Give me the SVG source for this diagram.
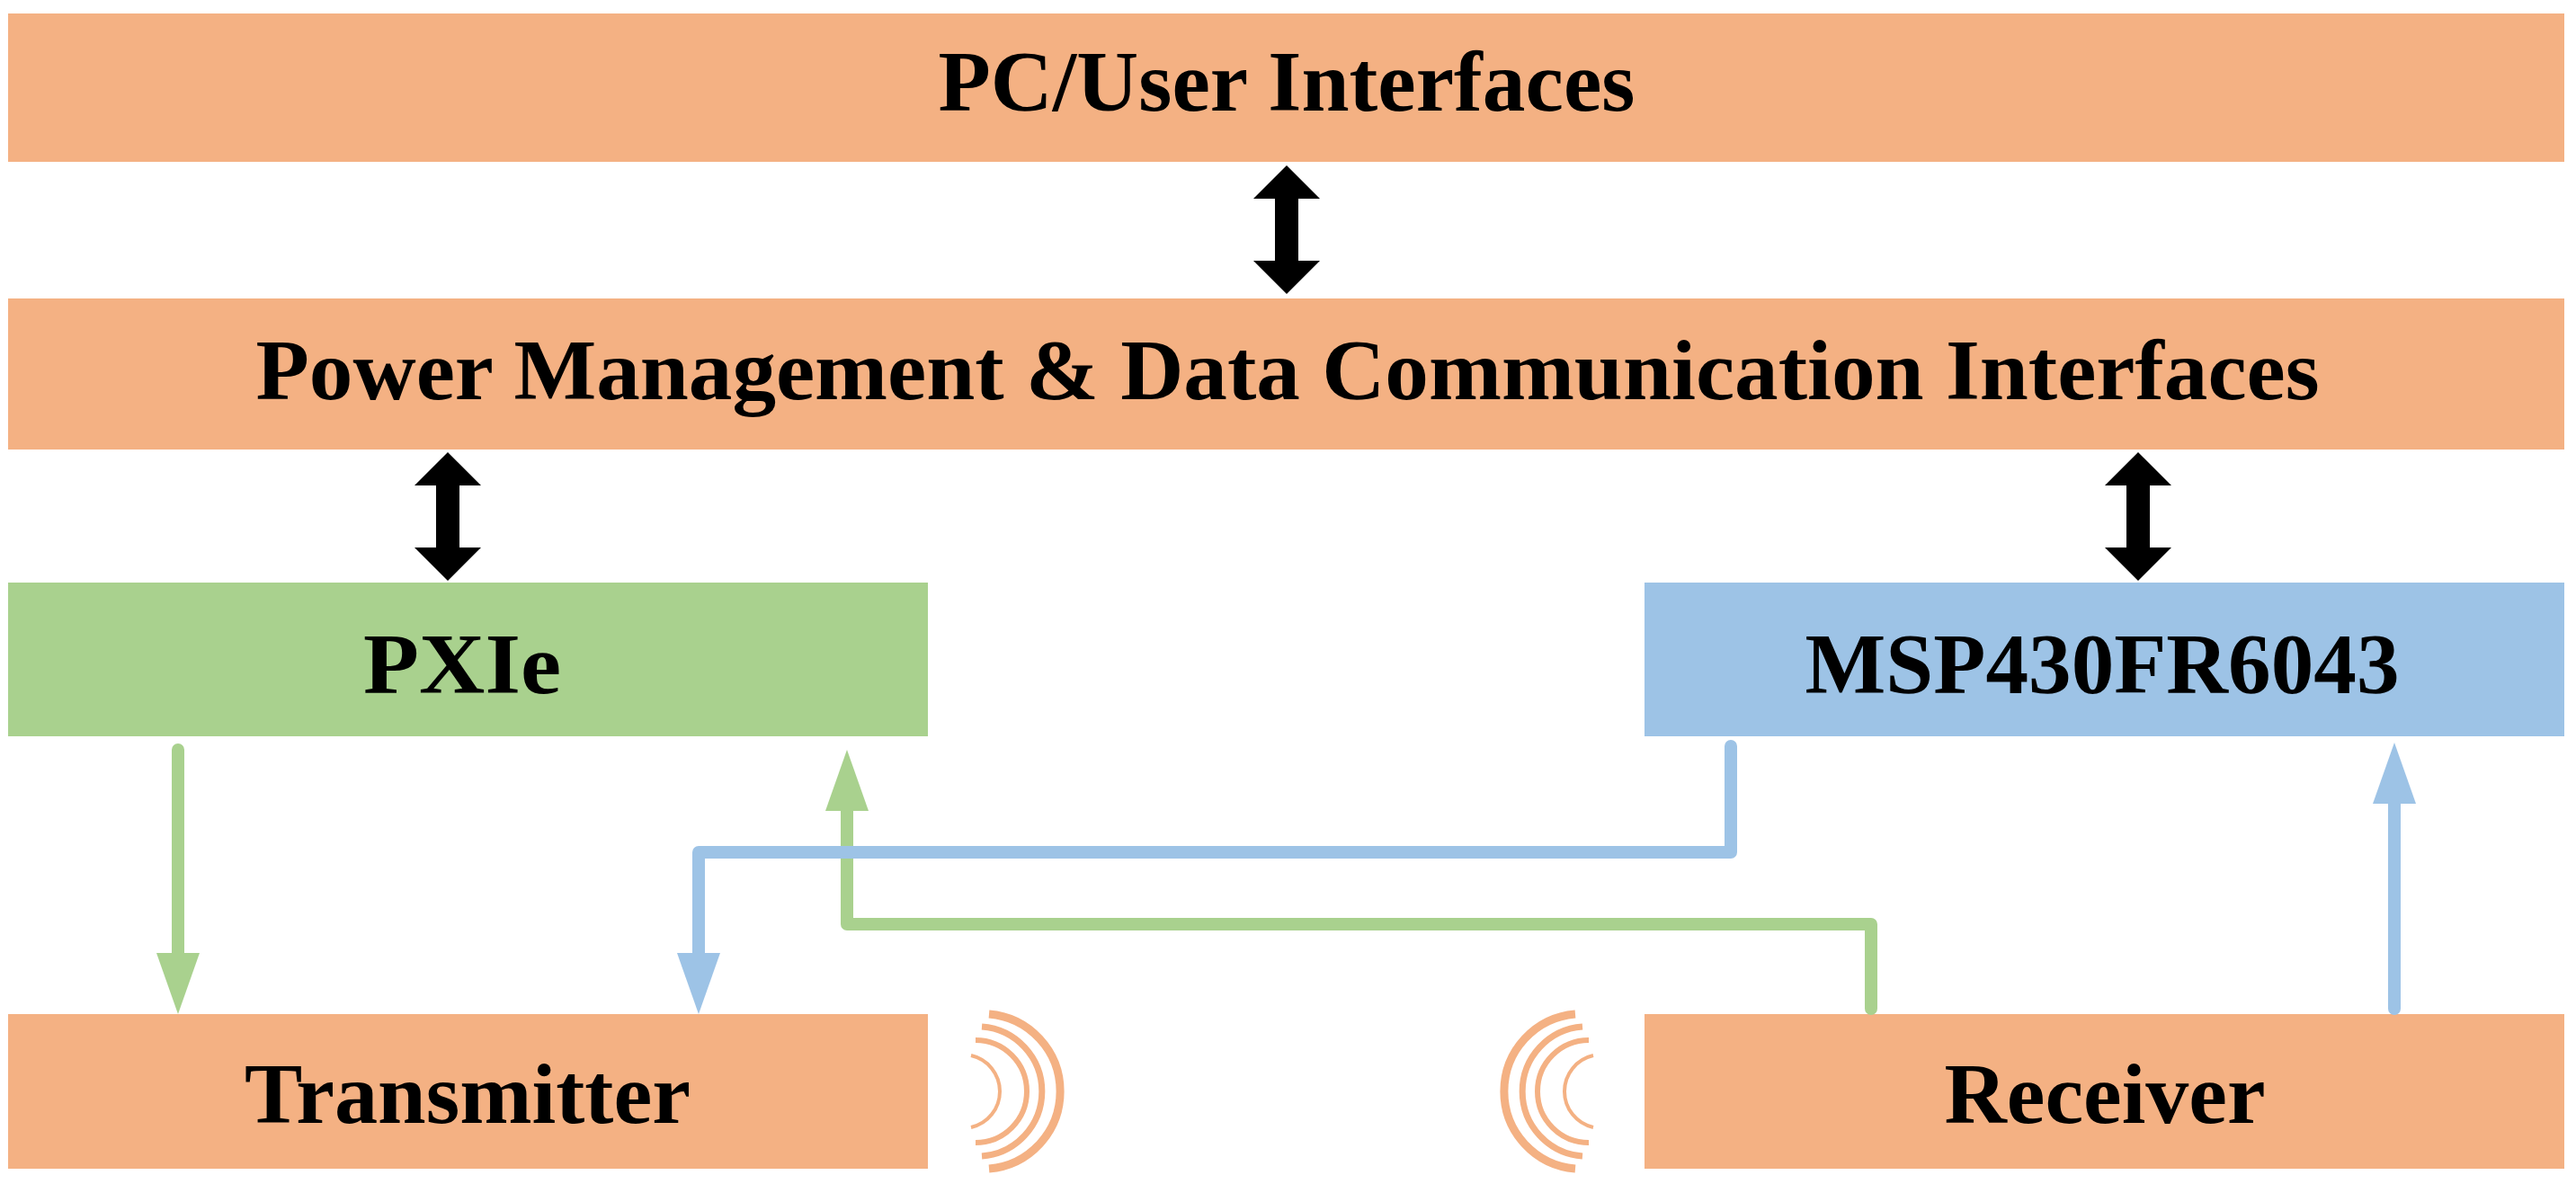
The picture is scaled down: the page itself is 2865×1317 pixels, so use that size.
<svg xmlns="http://www.w3.org/2000/svg" width="2865" height="1317" viewBox="0 0 2865 1317">
<style>
.o{fill:#F4B183}.g{fill:#A9D18E}.b{fill:#9DC3E6}
text{font-family:"Liberation Serif","Times New Roman",serif;font-weight:bold;font-size:96px;fill:#000;text-anchor:middle}
.gl{stroke:#A9D18E;stroke-width:14;fill:none;stroke-linecap:round;stroke-linejoin:round}
.bl{stroke:#9DC3E6;stroke-width:14;fill:none;stroke-linecap:round;stroke-linejoin:round}
.w{stroke:#F4B183;fill:none}
</style>
<defs>
<path id="dbl" d="M0,0 L37,37 L13,37 L13,106 L37,106 L0,143 L-37,106 L-13,106 L-13,37 L-37,37 Z" fill="#000"/>
<g id="waves">
<path class="w" stroke-width="9" d="M1100,1128 A86.3,86.3 0 0 1 1100,1300"/>
<path class="w" stroke-width="7" d="M1092,1142 A72.2,72.2 0 0 1 1092,1286"/>
<path class="w" stroke-width="6" d="M1085,1157 A57,57 0 0 1 1085,1271"/>
<path class="w" stroke-width="4" d="M1080,1174 A41,41 0 0 1 1080,1254"/>
</g>
</defs>
<g id="pc"><rect class="o" x="9" y="15" width="2843" height="165"/><text x="1431" y="123" textLength="775" lengthAdjust="spacingAndGlyphs">PC/User Interfaces</text></g>
<g id="pm"><rect class="o" x="9" y="332" width="2843" height="168"/><text x="1432" y="444" textLength="2295" lengthAdjust="spacingAndGlyphs">Power Management &amp; Data Communication  Interfaces</text></g>
<g id="pxie"><rect class="g" x="9" y="648" width="1023" height="171"/><text x="514" y="771" textLength="220" lengthAdjust="spacingAndGlyphs">PXIe</text></g>
<g id="msp"><rect class="b" x="1829" y="648" width="1023" height="171"/><text x="2338" y="771" textLength="661" lengthAdjust="spacingAndGlyphs">MSP430FR6043</text></g>
<g id="tx"><rect class="o" x="9" y="1128" width="1023" height="172"/><text x="520" y="1249" textLength="496" lengthAdjust="spacingAndGlyphs">Transmitter</text></g>
<g id="rx"><rect class="o" x="1829" y="1128" width="1023" height="172"/><text x="2341" y="1249" textLength="357" lengthAdjust="spacingAndGlyphs">Receiver</text></g>
<g id="wavesTx"><use href="#waves"/></g>
<g id="wavesRx"><use href="#waves" transform="translate(2852,0) scale(-1,1)"/></g>
<g id="connectors">
<use href="#dbl" x="1431" y="184"/>
<use href="#dbl" x="498" y="503"/>
<use href="#dbl" x="2378" y="503"/>
<path class="gl" d="M198,834 L198,1060"/>
<polygon fill="#A9D18E" points="174,1060 222,1060 198,1128"/>
<path class="gl" d="M942,900 L942,1028 L2081,1028 L2081,1122"/>
<polygon fill="#A9D18E" points="918,902 966,902 942,834"/>
<path class="bl" d="M1925,830 L1925,948 L777,948 L777,1060"/>
<polygon fill="#9DC3E6" points="753,1060 801,1060 777,1128"/>
<path class="bl" d="M2663,1122 L2663,894"/>
<polygon fill="#9DC3E6" points="2639,894 2687,894 2663,826"/>
</g>
</svg>
